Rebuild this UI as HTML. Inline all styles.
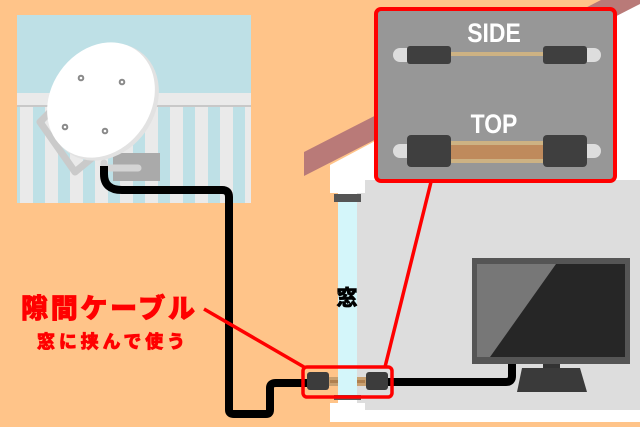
<!DOCTYPE html>
<html><head><meta charset="utf-8"><style>
html,body{margin:0;padding:0;width:640px;height:427px;overflow:hidden;background:#FFC489}
svg{display:block}
</style></head><body>
<svg width="640" height="427" viewBox="0 0 640 427" xmlns="http://www.w3.org/2000/svg">
<rect width="640" height="427" fill="#FFC489"/>
<!-- picture -->
<rect x="17" y="15" width="234" height="188" fill="#BEE0E6"/>
<rect x="17" y="93" width="234" height="12" fill="#EAEAEA"/>
<rect x="17" y="105" width="234" height="2" fill="#C8C8C8"/>
<g fill="#EAEAEA">
<rect x="20" y="107" width="13" height="96"/><rect x="45" y="107" width="13" height="96"/><rect x="70" y="107" width="13" height="96"/><rect x="95" y="107" width="13" height="96"/><rect x="120" y="107" width="13" height="96"/><rect x="145" y="107" width="13" height="96"/><rect x="170" y="107" width="13" height="96"/><rect x="195" y="107" width="13" height="96"/><rect x="220" y="107" width="13" height="96"/><rect x="245" y="107" width="6" height="96"/>
</g>
<!-- dish -->
<path d="M50 112 L40 122 L75 172 L92 158" fill="none" stroke="#CACACA" stroke-width="7" stroke-linejoin="round"/>
<rect x="113" y="153" width="47" height="28" fill="#AAAAAA"/>
<path d="M104 163 L104 168 L138 168" stroke="#D4D4D4" stroke-width="7" fill="none" stroke-linecap="round"/>
<ellipse cx="104" cy="102" rx="51" ry="62" transform="rotate(35 104 102)" fill="#E2E2E2"/>
<ellipse cx="101" cy="100" rx="50" ry="61" transform="rotate(35 101 100)" fill="#FFFFFF"/>
<g fill="none" stroke="#8A8A8A" stroke-width="2"><circle cx="81" cy="78" r="2.3"/><circle cx="122" cy="82" r="2.3"/><circle cx="65" cy="127" r="2.3"/><circle cx="105" cy="131" r="2.3"/></g>
<!-- cable outside -->
<path d="M104 166 L104 174 Q104 190 122 190 L222 190 Q229 190 229 197 L229 410 Q229 414 234 414 L266 414 Q270 414 270 410 L270 388 Q270 383 276 383 L310 383" fill="none" stroke="#000" stroke-width="8"/>
<!-- house -->
<polygon points="330,165 640,0 640,190 330,190" fill="#FFFFFF"/>
<polygon points="304,152 640,-20 640,4 304,176" fill="#B97A78"/>
<rect x="330" y="175" width="310" height="247" fill="#FFFFFF"/>
<rect x="330" y="422" width="310" height="5" fill="#FFC489"/>
<rect x="365" y="180" width="275" height="230" fill="#DDDDDD"/>
<rect x="357" y="193" width="10" height="210" fill="#DDDDDD"/>
<rect x="330" y="193" width="8" height="210" fill="#FFC489"/>
<rect x="338" y="202" width="19" height="194" fill="#D4F6FA"/>
<rect x="334" y="194" width="27" height="8" fill="#555555"/>
<rect x="334" y="395" width="27" height="5" fill="#555555"/>
<text x="347" y="305" font-family="'Liberation Sans','Noto Sans CJK JP',sans-serif" font-weight="900" font-size="21" text-anchor="middle" fill="#000" stroke="#000" stroke-width="0.6">窓</text>
<!-- TV -->
<rect x="472" y="258" width="158" height="106" fill="#555555"/>
<rect x="477" y="264" width="148" height="93" fill="#262626"/>
<polygon points="477,264 556,264 490,357 477,357" fill="#777777"/>
<rect x="543" y="364" width="17" height="18" fill="#333"/>
<polygon points="522,368 580,368 587,392 517,392" fill="#3A3A3A"/>
<!-- inside cable -->
<path d="M388 382 L506 382 Q512 382 512 376 L512 364" fill="none" stroke="#000" stroke-width="8"/>
<!-- connector in window -->
<rect x="328" y="377" width="10" height="9" fill="#C9A070"/>
<rect x="357" y="377" width="10" height="9" fill="#C9A070"/>
<rect x="330" y="380" width="8" height="3" fill="#B0804F"/>
<rect x="357" y="380" width="8" height="3" fill="#B0804F"/>
<rect x="307" y="372" width="22" height="18" rx="3" fill="#3C3C3C"/>
<rect x="366" y="372" width="22" height="18" rx="3" fill="#3C3C3C"/>
<rect x="303" y="367" width="89" height="30" rx="4" fill="none" stroke="#FF0000" stroke-width="3.5"/>
<!-- red lines -->
<line x1="204" y1="309" x2="304" y2="367" stroke="#FF0000" stroke-width="3.5"/>
<line x1="431" y1="182" x2="385" y2="367" stroke="#FF0000" stroke-width="3.5"/>
<!-- inset -->
<rect x="376" y="9" width="239" height="172" rx="5" fill="#979797" stroke="#FF0000" stroke-width="4"/>
<text x="494" y="42" font-family="'Liberation Sans',sans-serif" font-weight="bold" font-size="27" fill="#fff" text-anchor="middle" transform="translate(494 0) scale(0.85 1) translate(-494 0)">SIDE</text>
<text x="494" y="133" font-family="'Liberation Sans',sans-serif" font-weight="bold" font-size="27" fill="#fff" text-anchor="middle" transform="translate(494 0) scale(0.85 1) translate(-494 0)">TOP</text>
<rect x="393" y="48" width="22" height="14" rx="7" fill="#DDDDDD"/>
<rect x="579" y="48" width="22" height="14" rx="7" fill="#DDDDDD"/>
<rect x="451" y="52" width="92" height="4" fill="#CDB283"/>
<rect x="407" y="46" width="44" height="18" rx="3" fill="#3F3F3F"/>
<rect x="543" y="46" width="44" height="18" rx="3" fill="#3F3F3F"/>
<rect x="393" y="144" width="22" height="14" rx="7" fill="#DDDDDD"/>
<rect x="579" y="144" width="22" height="14" rx="7" fill="#DDDDDD"/>
<rect x="451" y="141" width="92" height="22" fill="#CDB283"/>
<rect x="451" y="145" width="92" height="14" fill="#BF8A5C"/>
<rect x="407" y="135" width="44" height="32" rx="4" fill="#3F3F3F"/>
<rect x="543" y="135" width="44" height="32" rx="4" fill="#3F3F3F"/>
<!-- label -->
<text x="21" y="318" font-family="'Liberation Sans','Noto Sans CJK JP',sans-serif" font-weight="900" font-size="27" fill="#FF0000" stroke="#FF0000" stroke-width="0.8" textLength="174">隙間ケーブル</text>
<text x="37" y="348" font-family="'Liberation Sans','Noto Sans CJK JP',sans-serif" font-weight="900" font-size="18" fill="#FF0000" stroke="#FF0000" stroke-width="0.6" textLength="148">窓に挟んで使う</text>
</svg>
</body></html>
